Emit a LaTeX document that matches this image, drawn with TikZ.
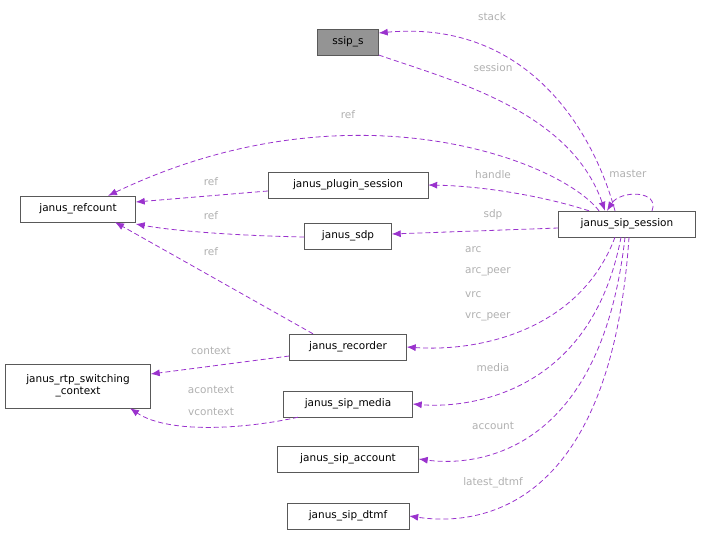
\documentclass[tikz,border=0pt]{standalone}
\usepackage{fontspec}
\setmainfont{DejaVu Sans}
\usepackage{xcolor}
\usepackage{tikz}
\usetikzlibrary{calc, arrows.meta, positioning}
\definecolor{edgecol}{HTML}{9A32CD}
\definecolor{labcol}{HTML}{B0B0B0}
\tikzset{
    classnode/.style = {draw=black!65, rectangle, fill=white, inner sep=0.2em, minimum height=26pt,
      font=\fontsize{10.5}{12}\selectfont, align=center},
    edgelabel/.style = {draw=none, fill=none, inner sep=0em, text=labcol, font=\fontsize{10.5}{12}\selectfont},
    connect/.style = {edgecol, line width=0.8pt, dash pattern=on 5pt off 3pt, -{Latex[length=9pt,width=7pt]}}
}
\begin{document}
\begin{tikzpicture}[x=1pt, y=-1pt]
    \useasboundingbox (0,0) rectangle (703,535);

    \node [name=ssip, classnode, fill=black!42, minimum width=61pt] at (348,42) {ssip\_s};
    \node [name=ref, classnode, minimum width=115pt] at (78,209) {janus\_refcount};
    \node [name=plugin, classnode, minimum width=160pt] at (348,185) {janus\_plugin\_session};
    \node [name=sdp, classnode, minimum width=87pt] at (348,236) {janus\_sdp};
    \node [name=sess, classnode, minimum width=137pt] at (627,224) {janus\_sip\_session};
    \node [name=rtp, classnode, minimum width=145pt, minimum height=44pt] at (78,386) {janus\_rtp\_switching\\\_context};
    \node [name=rec, classnode, minimum width=117pt] at (348,347) {janus\_recorder};
    \node [name=media, classnode, minimum width=129pt] at (348,404) {janus\_sip\_media};
    \node [name=account, classnode, minimum width=141pt] at (348,459) {janus\_sip\_account};
    \node [name=dtmf, classnode, minimum width=122pt] at (348,516) {janus\_sip\_dtmf};

    % session links
    \draw [connect] ($(sess.north)+(-12,0)$) .. controls (590,120) and (520,20) .. (ssip.east |- 0,33);
    \draw [connect] (ssip.east |- 0,55) .. controls (450,80) and (570,110) .. ($(sess.north)+(-22,0)$);
    \draw [connect] ($(sess.north)+(-28,0)$) .. controls (560,160) and (350,80) .. ($(ref.north)+(30,0)$);
    \draw [connect] ($(sess.north)+(25,0)$) .. controls (660,190) and (620,190) .. ($(sess.north)+(-20,0)$);
    \draw [connect] ($(sess.north)+(-38,0)$) .. controls (540,195) and (480,186) .. (plugin.east);
    \draw [connect] (sess.west |- 0,228) -- (sdp.east |- 0,234);
    \draw [connect] ($(sess.south)+(-12,0)$) .. controls (580,330) and (480,352) .. (rec.east);
    \draw [connect] ($(sess.south)+(-6,0)$) .. controls (590,400) and (460,408) .. (media.east);
    \draw [connect] ($(sess.south)+(-2,0)$) .. controls (600,460) and (470,466) .. (account.east);
    \draw [connect] ($(sess.south)+(2,0)$) .. controls (610,520) and (470,525) .. (dtmf.east);

    % refcount and context links
    \draw [connect] (plugin.west |- 0,191) -- (ref.east |- 0,202);
    \draw [connect] (sdp.west |- 0,237) .. controls (250,236) and (180,232) .. (ref.east |- 0,224);
    \draw [connect] ($(rec.north)+(-35,0)$) -- ($(ref.south)+(37,0)$);
    \draw [connect] (rec.west |- 0,356) -- (rtp.east |- 0,374);
    \draw [connect] ($(media.south)+(-50,0)$) .. controls (250,428) and (170,435) .. ($(rtp.south)+(52,0)$);

    % labels
    \node [name=lstack, edgelabel] at (492,17) {stack};
    \node [name=lsession, edgelabel] at (493,68) {session};
    \node [name=lref, edgelabel] at (348,115) {ref};
    \node [name=lmaster, edgelabel] at (628,174) {master};
    \node [name=lhandle, edgelabel] at (493,175) {handle};
    \node [name=lsdp, edgelabel] at (493,215) {sdp};
    \node [name=lref1, edgelabel] at (211,182) {ref};
    \node [name=lref2, edgelabel] at (211,216) {ref};
    \node [name=lref3, edgelabel] at (211,252) {ref};
    \node [name=larc, edgelabel, anchor=west] at (465,250) {arc};
    \node [name=larcp, edgelabel, anchor=west] at (465,272) {arc\_peer};
    \node [name=lvrc, edgelabel, anchor=west] at (465,295) {vrc};
    \node [name=lvrcp, edgelabel, anchor=west] at (465,317) {vrc\_peer};
    \node [name=lcontext, edgelabel] at (211,351) {context};
    \node [name=lacontext, edgelabel] at (211,390) {acontext};
    \node [name=lvcontext, edgelabel] at (211,412) {vcontext};
    \node [name=lmedia, edgelabel] at (493,368) {media};
    \node [name=laccount, edgelabel] at (493,426) {account};
    \node [name=ldtmf, edgelabel] at (493,483) {latest\_dtmf};
\end{tikzpicture}
\end{document}
